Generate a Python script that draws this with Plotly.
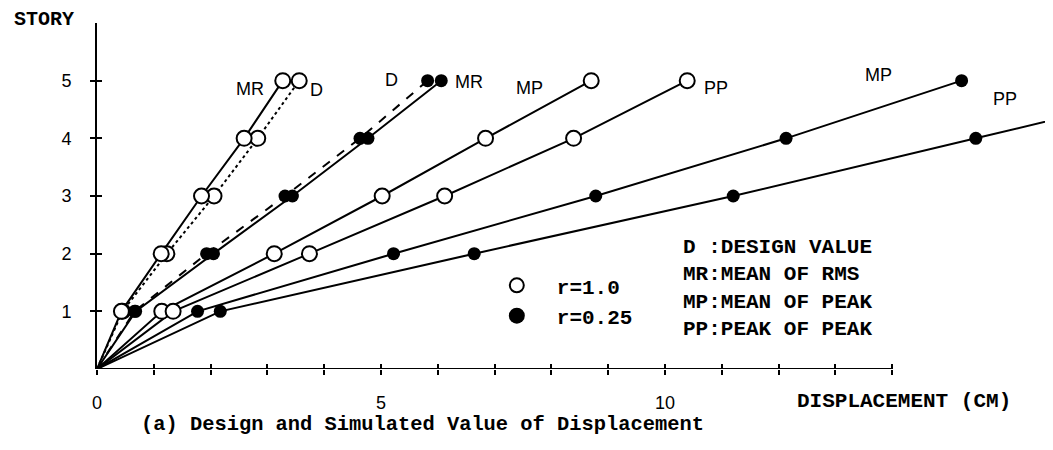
import plotly.graph_objects as go

# ---------------- data ----------------
stories = [1, 2, 3, 4, 5]

# r = 1.0 (open circles), displacement in cm
r10_D = [0.45, 1.23, 2.06, 2.83, 3.56]
r10_MR = [0.43, 1.13, 1.84, 2.59, 3.27]
r10_MP = [1.14, 3.12, 5.02, 6.84, 8.70]
r10_PP = [1.34, 3.74, 6.12, 8.39, 10.39]

# r = 0.25 (filled circles)
r025_D = [0.66, 1.93, 3.31, 4.63, 5.82]
r025_MR = [0.68, 2.05, 3.44, 4.77, 6.06]
r025_MP = [1.77, 5.22, 8.78, 12.13, 15.22]
r025_PP = [2.17, 6.64, 11.20, 15.47, 19.70]

x_tickvals = list(range(0, 15))
x_ticktext = ["0", "", "", "", "", "5", "", "", "", "", "10", "", "", "", ""]
y_tickvals = [1, 2, 3, 4, 5]
y_ticktext = ["1", "2", "3", "4", "5"]

series_labels = ["D", "MR", "MP", "PP", "D", "MR", "MP", "PP"]
label_x = [3.86, 2.69, 7.61, 10.90, 5.18, 6.55, 13.75, 15.99]
label_y = [4.84, 4.86, 4.88, 4.88, 5.02, 4.97, 5.09, 4.69]

legend_lines = ["D :DESIGN VALUE", "MR:MEAN OF RMS", "MP:MEAN OF PEAK", "PP:PEAK OF PEAK"]

# ---------------- figure ----------------
MONO = "Liberation Mono"
SANS = "Liberation Sans"

fig = go.Figure()

series = [
    (r10_D, "dot", "open"),
    (r10_MR, "solid", "open"),
    (r10_MP, "solid", "open"),
    (r10_PP, "solid", "open"),
    (r025_D, "dash", "filled"),
    (r025_MR, "solid", "filled"),
    (r025_MP, "solid", "filled"),
    (r025_PP, "solid", "filled"),
]

OPEN_MARKER = dict(symbol="circle", size=15, color="white",
                   line=dict(color="black", width=2))
FILLED_MARKER = dict(symbol="circle", size=13, color="black",
                     line=dict(color="black", width=0))

# lines from the origin
for xs, dash, kind in series:
    fig.add_trace(go.Scatter(
        x=[0] + xs, y=[0] + stories, mode="lines",
        line=dict(color="black", width=2, dash=dash),
        showlegend=False, hoverinfo="skip"))

# markers
for xs, dash, kind in series:
    fig.add_trace(go.Scatter(
        x=xs, y=stories, mode="markers",
        marker=OPEN_MARKER if kind == "open" else FILLED_MARKER,
        showlegend=False))

# legend entries
fig.add_trace(go.Scatter(x=[None], y=[None], mode="markers", name="<b>r=1.0</b>",
                         marker=dict(symbol="circle", size=14, color="white",
                                     line=dict(color="black", width=2))))
fig.add_trace(go.Scatter(x=[None], y=[None], mode="markers", name="<b>r=0.25</b>",
                         marker=dict(symbol="circle", size=19, color="black",
                                     line=dict(color="black", width=0))))

# series labels
for t, lx, ly in zip(series_labels, label_x, label_y):
    fig.add_annotation(x=lx, y=ly, text=t, showarrow=False,
                       font=dict(family=SANS, size=18, color="black"))

# x axis line (only up to 14 cm)
fig.add_shape(type="line", xref="x", yref="y", x0=0, x1=14, y0=0, y1=0,
              line=dict(color="black", width=2))

# overlay axes for inside tick halves
fig.add_trace(go.Scatter(x=[None], y=[None], xaxis="x2", yaxis="y2",
                         showlegend=False, hoverinfo="skip"))

XMAX = 16.97
fig.update_layout(
    width=1053, height=450,
    margin=dict(l=89, r=0, t=15, b=89, autoexpand=False),
    paper_bgcolor="white", plot_bgcolor="white",
    xaxis=dict(range=[0, XMAX], tickvals=x_tickvals, ticktext=x_ticktext,
               ticks="outside", ticklen=5, tickwidth=2, tickcolor="black",
               showgrid=False, zeroline=False, showline=False, automargin=False,
               ticklabelstandoff=12,
               tickfont=dict(family=SANS, size=18, color="black")),
    yaxis=dict(range=[0, 6], tickvals=y_tickvals, ticktext=y_ticktext,
               ticks="outside", ticklen=5, tickwidth=2, tickcolor="black",
               showgrid=False, zeroline=False, showline=True, automargin=False,
               linecolor="black", linewidth=2,
               ticklabelstandoff=15,
               tickfont=dict(family=SANS, size=18, color="black")),
    xaxis2=dict(range=[0, XMAX], overlaying="x", anchor="y", side="bottom",
                tickvals=x_tickvals[1:], ticks="inside", ticklen=5, tickwidth=2,
                tickcolor="black", showticklabels=False, showgrid=False,
                zeroline=False, showline=False, automargin=False),
    yaxis2=dict(range=[0, 6], overlaying="y", anchor="x", side="left",
                tickvals=y_tickvals, ticks="inside", ticklen=5, tickwidth=2,
                tickcolor="black", showticklabels=False, showgrid=False,
                zeroline=False, showline=False, automargin=False),
    legend=dict(x=0.394, y=0.30, xanchor="left", yanchor="top",
                bgcolor="rgba(0,0,0,0)", itemwidth=70, tracegroupgap=0,
                font=dict(family=MONO, size=21, color="black")),
    showlegend=True,
)

# text blocks
fig.add_annotation(xref="paper", yref="paper", x=-0.088, y=1.0087,
                   xanchor="left", yanchor="middle", text="<b>STORY</b>",
                   showarrow=False, font=dict(family=MONO, size=20, color="black"))
fig.add_annotation(xref="paper", yref="paper", x=0.724, y=-0.0925,
                   xanchor="left", yanchor="middle", text="<b>DISPLACEMENT (CM)</b>",
                   showarrow=False, font=dict(family=MONO, size=21, color="black"))
fig.add_annotation(xref="paper", yref="paper", x=0.0436, y=-0.16,
                   xanchor="left", yanchor="middle",
                   text="<b>(a) Design and Simulated Value of Displacement</b>",
                   showarrow=False, font=dict(family=MONO, size=20.4, color="black"))
fig.add_annotation(xref="paper", yref="paper", x=0.606, y=0.234,
                   xanchor="left", yanchor="middle", align="left",
                   text="<br>".join("<b>" + s + "</b>" for s in legend_lines),
                   showarrow=False, font=dict(family=MONO, size=21, color="black"))

fig.write_html("out.html")
